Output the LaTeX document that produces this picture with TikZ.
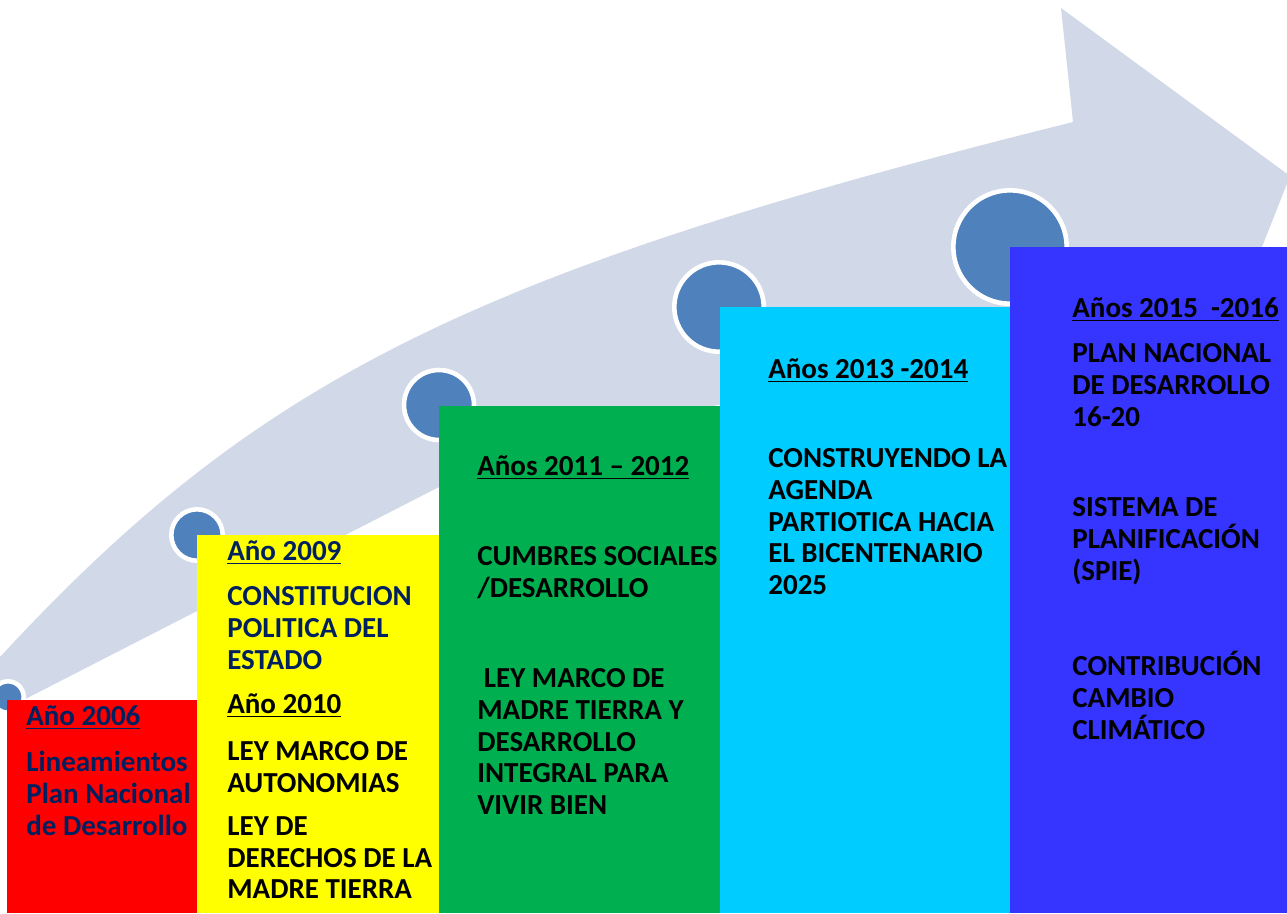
\documentclass[tikz,border=0pt]{standalone}
\usepackage{fontspec}
\setmainfont{Carlito}
\definecolor{bandgrey}{RGB}{209,216,231}
\definecolor{dotblue}{RGB}{79,129,189}
\definecolor{navy}{RGB}{0,32,96}
\definecolor{stepred}{RGB}{255,0,0}
\definecolor{stepyellow}{RGB}{255,255,0}
\definecolor{stepgreen}{RGB}{0,176,80}
\definecolor{stepcyan}{RGB}{0,204,255}
\definecolor{stepblue}{RGB}{53,53,255}

\begin{document}
\begin{tikzpicture}[x=0.02cm, y=-0.02cm,
	txt/.style={anchor=north west, inner sep=0, align=left, font=\bfseries\fontsize{16.5}{18.14}\selectfont, execute at begin node={\rule{0pt}{13pt}}},
	dot/.style={fill=dotblue, draw=white, line width=2.6pt}]
		\useasboundingbox (0,0) rectangle (1287,913);
		\clip (0,0) rectangle (1287,913);
		
		% curved arrow
		\fill[bandgrey] (0,657) .. controls (257,379) and (471,272) .. (1073,122) -- (1061,8) -- (1290,176) -- (1170,480) -- (1100,360) .. controls (900,370) and (650,400) .. (439,487) -- (0,712) -- cycle;
		
		\draw[dot] (8,697) circle (15.7);
		\draw[dot] (197,535) circle (25.7);
		\draw[dot] (439,405) circle (35);
		\draw[dot] (719,307) circle (44.7);
		\draw[dot] (1010,247) circle (56.7);
		
		% 2006
		\fill[stepred] (7,700) rectangle (197,913);
		\node[txt, text=navy] (t06) at (26,702) {\underline{Año 2006}};
		\node[txt, text=navy] (d06) at (26,751) {Lineamientos\\Plan Nacional\\de Desarrollo};
		
		% 2009 - 2010
		\fill[stepyellow] (197,535) rectangle (439,913);
		\node[txt, text=navy] (t09) at (227,537) {\underline{Año 2009}};
		\node[txt, text=navy] (d09) at (227,586) {CONSTITUCION\\POLITICA DEL\\ESTADO};
		\node[txt] (t10) at (227,690) {\underline{Año 2010}};
		\node[txt] (d10a) at (227,741) {LEY MARCO DE\\AUTONOMIAS};
		\node[txt] (d10b) at (227,816) {LEY DE\\DERECHOS DE LA\\MADRE TIERRA};
		
		% 2011 - 2012
		\fill[stepgreen] (439,406) rectangle (720,913);
		\node[txt] (t11) at (477,452) {\underline{Años 2011 – 2012}};
		\node[txt] (d11a) at (477,546) {CUMBRES SOCIALES\\/DESARROLLO};
		\node[txt] (d11b) at (477,668) {\ LEY MARCO DE\\MADRE TIERRA Y\\DESARROLLO\\INTEGRAL PARA\\VIVIR BIEN};
		
		% 2013 - 2014
		\fill[stepcyan] (720,307) rectangle (1010,913);
		\node[txt] (t13) at (768,355) {\underline{Años 2013 -2014}};
		\node[txt] (d13) at (768,448) {CONSTRUYENDO LA\\AGENDA\\PARTIOTICA HACIA\\EL BICENTENARIO\\2025};
		
		% 2015 - 2016
		\fill[stepblue] (1010,247) rectangle (1287,913);
		\node[txt] (t15) at (1072,294) {\underline{Años 2015~ -2016}};
		\node[txt] (d15a) at (1072,343) {PLAN NACIONAL\\DE DESARROLLO\\16-20};
		\node[txt] (d15b) at (1072,497) {SISTEMA DE\\PLANIFICACIÓN\\(SPIE)};
		\node[txt] (d15c) at (1072,651) {CONTRIBUCIÓN\\CAMBIO\\CLIMÁTICO};
	\end{tikzpicture}
\end{document}
